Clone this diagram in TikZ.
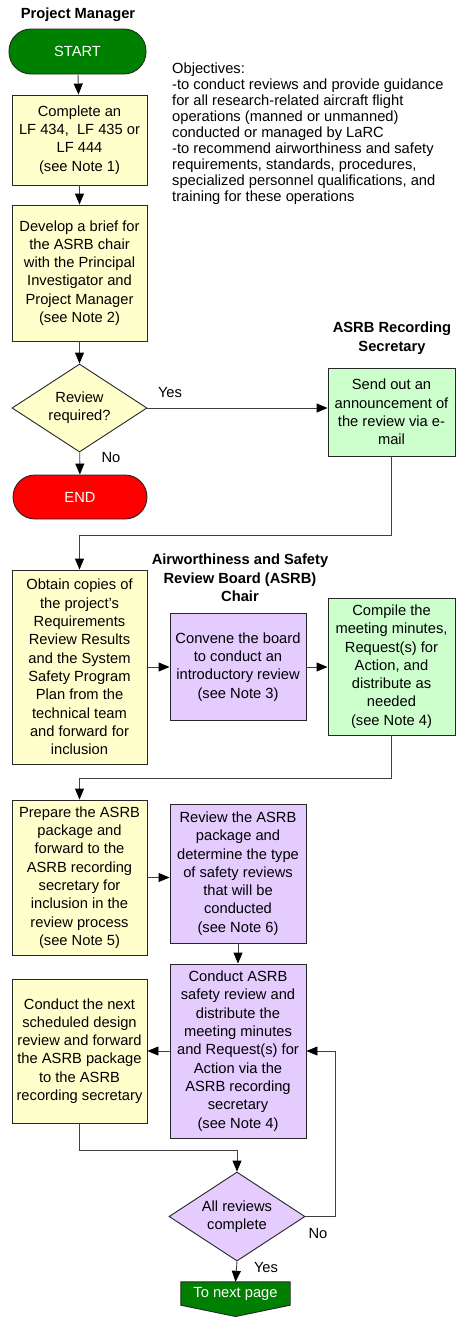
\documentclass[tikz,border=0pt]{standalone}
\usepackage{fontspec}
\setmainfont{Liberation Sans}
\usetikzlibrary{arrows.meta,shapes.geometric,backgrounds}
\definecolor{cyel}{HTML}{FFFFCC}
\definecolor{cgrn}{HTML}{CCFFCC}
\definecolor{cpur}{HTML}{E5CCFF}
\definecolor{cdg}{HTML}{008000}
\definecolor{cline}{HTML}{404040}
\begin{document}
\begin{tikzpicture}[x=1pt,y=-1pt,
  every node/.style={font=\fontsize{14.7}{18.3}\selectfont, inner sep=0pt, align=center},
  box/.style={draw=black!85, line width=0.9pt, rectangle},
  ybox/.style={box, fill=cyel},
  gbox/.style={box, fill=cgrn},
  pbox/.style={box, fill=cpur},
  term/.style={box, rounded corners=22pt, text=white},
  dec/.style={box, diamond, aspect=1.5},
  head/.style={font=\bfseries\fontsize{14.7}{18.5}\selectfont},
  lbl/.style={font=\fontsize{14.7}{18.3}\selectfont},
  conn/.style={draw=cline, line width=0.9pt},
  arr/.style={conn, -{Triangle[length=11pt,width=9pt,color=black]}},
  ]
\begin{scope}[on background layer]
\fill[white] (0,0) rectangle (456,1318);
\end{scope}
\useasboundingbox (0,0) rectangle (456,1318);

% headers
\node[head] (hpm) at (78,15) {Project Manager};
\node[head] (hsec) at (392,338) {ASRB Recording\\Secretary};
\node[head] (hch) at (240,578) {Airworthiness and Safety\\Review Board (ASRB)\\Chair};

% objectives
\node[anchor=north west, align=left, font=\fontsize{14.7}{16}\selectfont] (obj) at (172,63)
 {Objectives:\\
 -to conduct reviews and provide guidance\\
 for all research-related aircraft flight\\
 operations (manned or unmanned)\\
 conducted or managed by LaRC\\
 -to recommend airworthiness and safety\\
 requirements, standards, procedures,\\
 specialized personnel qualifications, and\\
 training for these operations};

% nodes
\node[term, fill=cdg, minimum width=137pt, minimum height=45pt] (start) at (77.5,51.5) {START};
\node[ybox, minimum width=135pt, minimum height=90pt] (b1) at (79.5,140)
 {Complete an\\LF 434,\ \ LF 435 or\\LF 444\\(see Note 1)};
\node[ybox, minimum width=135pt, minimum height=136pt] (b2) at (79.5,273)
 {Develop a brief for\\the ASRB chair\\with the Principal\\Investigator and\\Project Manager\\(see Note 2)};
\node[dec, fill=cyel, minimum width=135pt, minimum height=88pt] (d1) at (79.5,408)
 {Review\\required?};
\node[term, fill=red, minimum width=134pt, minimum height=44pt] (end) at (80,497) {END};
\node[gbox, minimum width=127pt, minimum height=88pt] (sec) at (391.5,412)
 {Send out an\\announcement of\\the review via e-\\mail};

\node[ybox, minimum width=135pt, minimum height=194pt] (b3) at (79.5,667)
 {Obtain copies of\\the project{\char"27}s\\Requirements\\Review Results\\and the System\\Safety Program\\Plan from the\\technical team\\and forward for\\inclusion};
\node[pbox, minimum width=136pt, minimum height=107pt] (b4) at (238,667)
 {Convene the board\\to conduct an\\introductory review\\(see Note 3)};
\node[gbox, minimum width=127pt, minimum height=137pt] (b5) at (391.5,666.5)
 {Compile the\\meeting minutes,\\Request(s) for\\Action, and\\distribute as\\needed\\(see Note 4)};

\node[ybox, minimum width=135pt, minimum height=155pt] (b6) at (79.5,877.5)
 {Prepare the ASRB\\package and\\forward to the\\ASRB recording\\secretary for\\inclusion in the\\review process\\(see Note 5)};
\node[pbox, minimum width=136pt, minimum height=139pt] (b7) at (238,873.5)
 {Review the ASRB\\package and\\determine the type\\of safety reviews\\that will be\\conducted\\(see Note 6)};
\node[pbox, minimum width=136pt, minimum height=174pt] (b8) at (238,1051)
 {Conduct ASRB\\safety review and\\distribute the\\meeting minutes\\and Request(s) for\\Action via the\\ASRB recording\\secretary\\(see Note 4)};
\node[ybox, minimum width=135pt, minimum height=144pt] (b9) at (79.5,1051)
 {Conduct the next\\scheduled design\\review and forward\\the ASRB package\\to the ASRB\\recording secretary};
\node[dec, fill=cpur, minimum width=136pt, minimum height=89pt] (d2) at (237,1216.5)
 {All reviews\\complete};
\node[text=white, minimum width=109pt, minimum height=23pt] (np) at (235.5,1293.5) {To next page};
\coordinate (tip) at (235.5,1316.5);
\begin{scope}[on background layer]
\draw[box, fill=cdg] (np.north west) -- (np.north east) -- (np.south east) -- (tip) -- (np.south west) -- cycle;
\end{scope}

% labels
\node[lbl] (lyes1) at (170,393) {Yes};
\node[lbl] (lno1) at (111,458) {No};
\node[lbl] (lno2) at (318,1233) {No};
\node[lbl] (lyes2) at (266,1267) {Yes};

% junctions
\coordinate (j1) at (0,535);
\coordinate (j2) at (0,778);
\coordinate (j3) at (0,1150);
\coordinate (j4) at (335,0);

% connectors
\draw[arr] (start) -- (b1);
\draw[arr] (b1) -- (b2);
\draw[arr] (b2) -- (d1);
\draw[arr] (d1) -- (end);
\draw[arr] (d1.east) -- (d1.east -| sec.west);
\draw[arr] (sec.south) -- (sec.south |- j1) -- (b3.north |- j1) -- (b3.north);
\draw[arr] (b3.east |- b4.west) -- (b4.west);
\draw[arr] (b4.east) -- (b4.east -| b5.west);
\draw[arr] (b5.south) -- (b5.south |- j2) -- (b6.north |- j2) -- (b6.north);
\draw[arr] (b6.east) -- (b6.east -| b7.west);
\draw[arr] (b7) -- (b8);
\draw[arr] (b8.west) -- (b9.east);
\draw[arr] (b9.south) -- (b9.south |- j3) -- (d2.north |- j3) -- (d2.north);
\draw[arr] (d2.east) -- (d2.east -| j4) -- (j4 |- b8.east) -- (b8.east);
\draw[arr] (d2.south) -- (np.north);
\end{tikzpicture}
\end{document}
